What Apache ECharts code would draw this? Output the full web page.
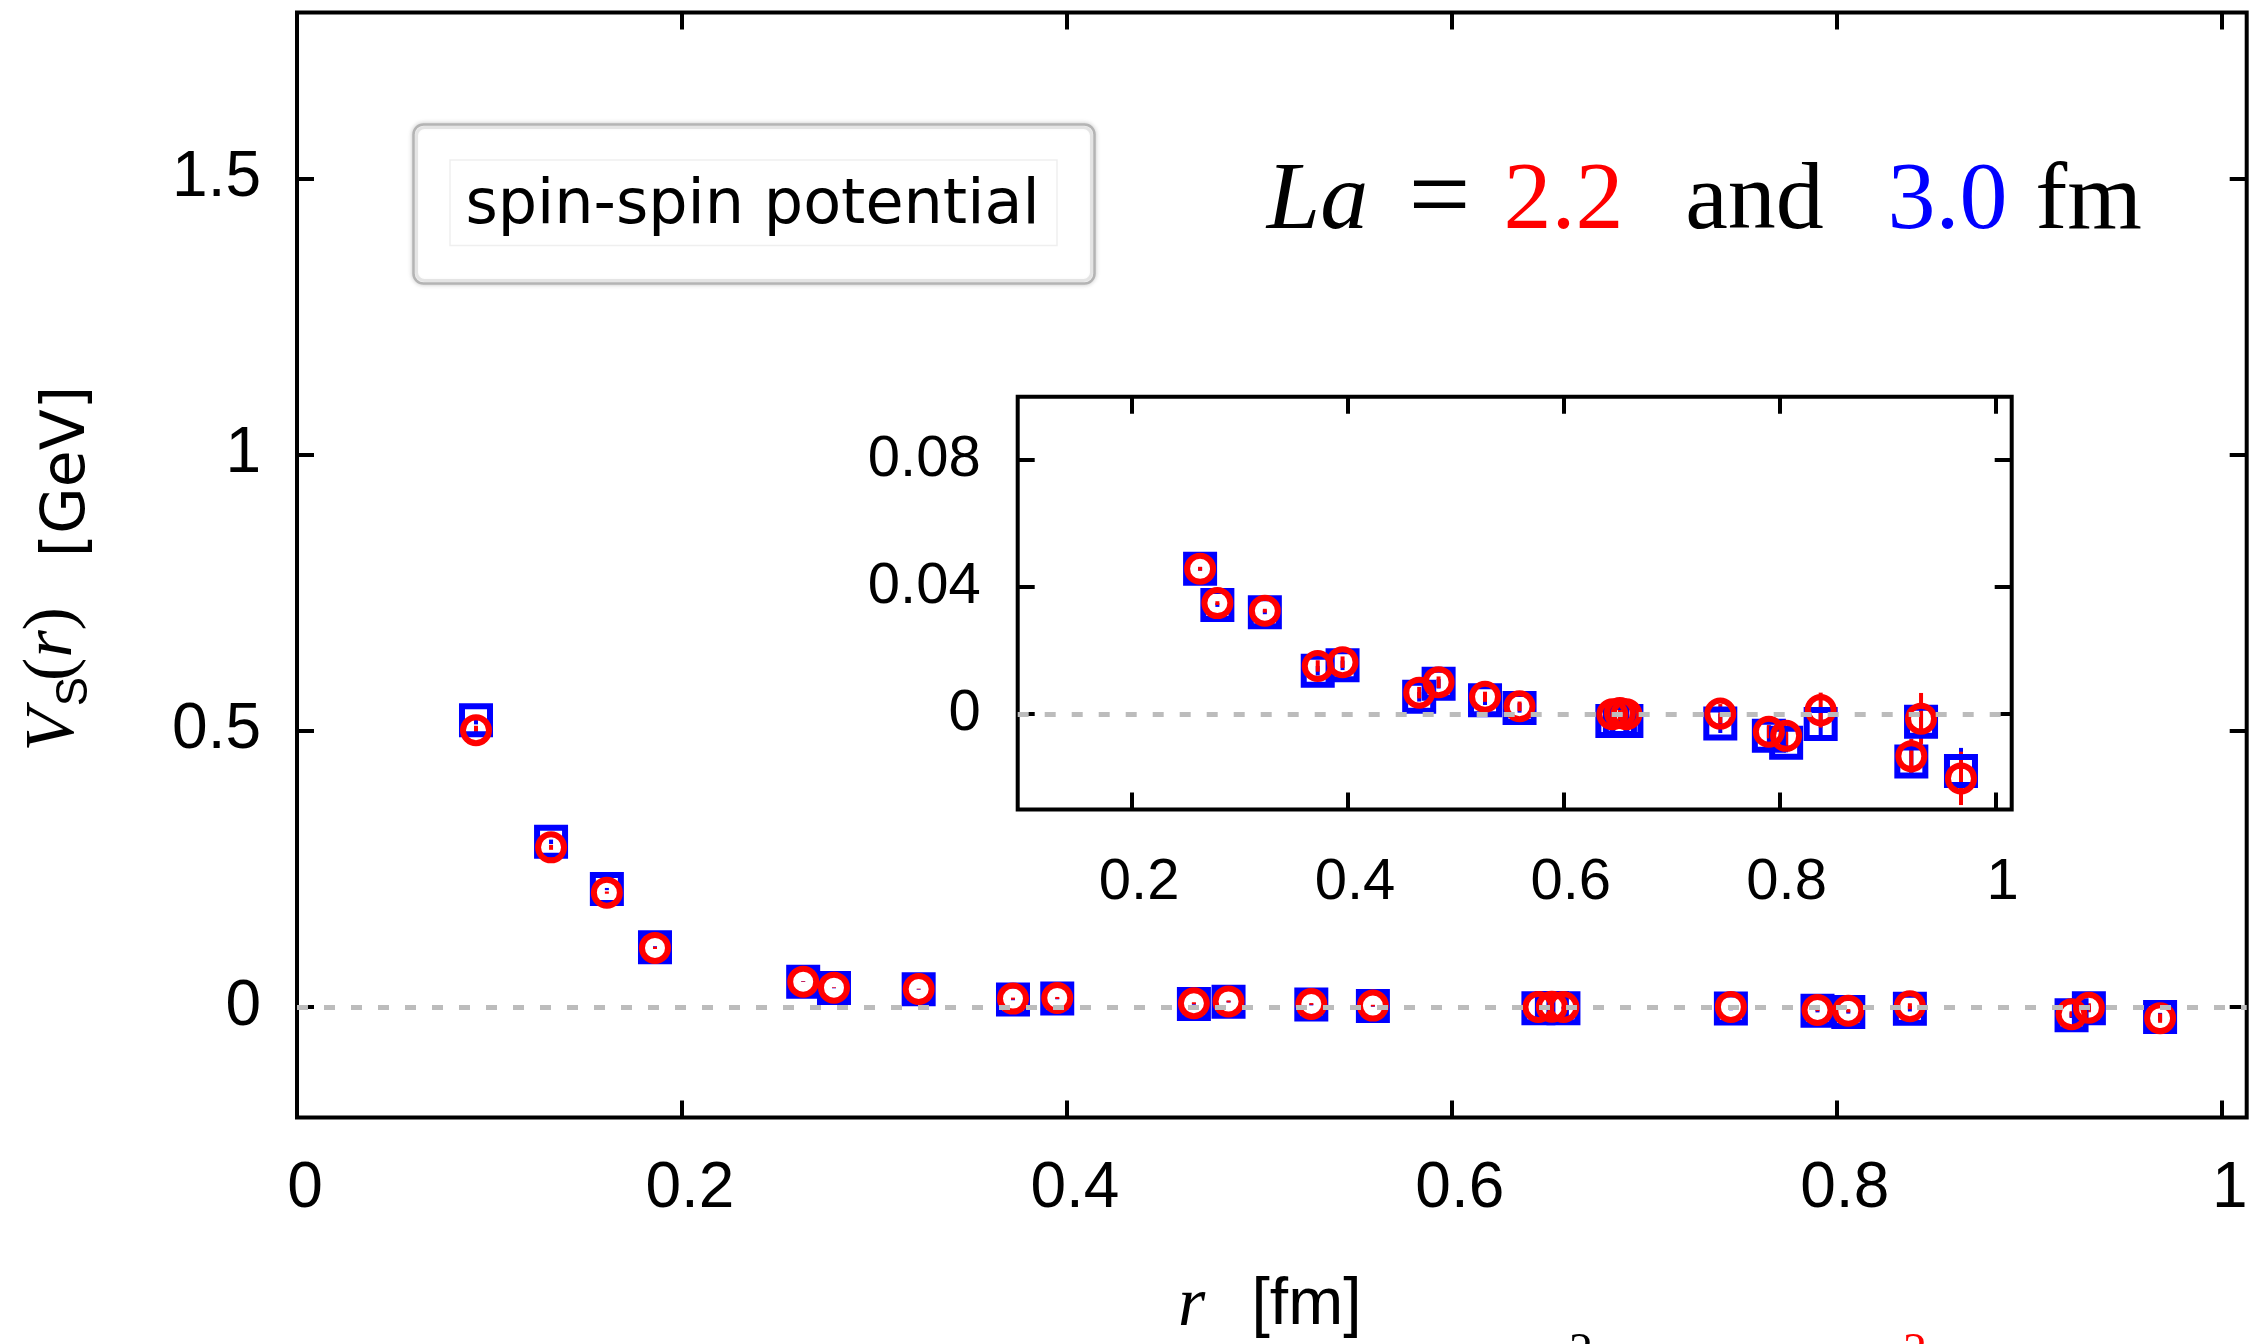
<!DOCTYPE html>
<html>
<head>
<meta charset="utf-8">
<title>Spin-spin potential</title>
<script src="https://cdn.jsdelivr.net/npm/echarts@6/dist/echarts.min.js"></script>
<style>
  html, body { margin: 0; padding: 0; background: #ffffff; }
  #chart { width: 2249px; height: 1344px; }
</style>
</head>
<body>
<div id="chart"></div>
<script>
// Quark separation r [fm], shared by both lattice volumes
const rValues = [0.093, 0.132, 0.161, 0.186, 0.263, 0.279, 0.323, 0.372, 0.395,
                 0.466, 0.484, 0.527, 0.559, 0.645, 0.652, 0.658, 0.745, 0.790,
                 0.806, 0.838, 0.922, 0.931, 0.968];

// V_S(r) [GeV] for La = 3.0 fm (blue squares) and its statistical errors
const vsL30  = [0.519, 0.299, 0.2135, 0.108, 0.0458, 0.0344, 0.0321, 0.0137, 0.0154,
                0.0055, 0.0096, 0.0044, 0.0020, -0.0021, -0.0018, -0.0021, -0.0029, -0.0068,
                -0.0090, -0.0031, -0.0149, -0.0024, -0.0179];
const errL30 = [0.0075, 0.004, 0.002, 0.002, 0.0006, 0.0006, 0.0006, 0.0015, 0.0015,
                0.0015, 0.0015, 0.0015, 0.0015, 0.002, 0.002, 0.002, 0.003, 0.003,
                0.003, 0.005, 0.005, 0.005, 0.0073];

// V_S(r) [GeV] for La = 2.2 fm (red circles) and its statistical errors
const vsL22  = [0.501, 0.289, 0.207, 0.107, 0.0458, 0.0350, 0.0326, 0.0152, 0.0164,
                0.0068, 0.0101, 0.0055, 0.0025, 0.0000, 0.0004, 0.0000, 0.0002, -0.0055,
                -0.0068, 0.0013, -0.0132, -0.0014, -0.0202];
const errL22 = [0.008, 0.0045, 0.002, 0.002, 0.0006, 0.0006, 0.0006, 0.0018, 0.0018,
                0.0018, 0.0018, 0.0016, 0.0015, 0.0024, 0.0024, 0.0024, 0.003, 0.0021,
                0.003, 0.0055, 0.0055, 0.0081, 0.0084];

// Tick positions
const mainXTicks  = [0, 0.2, 0.4, 0.6, 0.8, 1];
const mainYTicks  = [0, 0.5, 1, 1.5];
const insetXTicks = [0.2, 0.4, 0.6, 0.8, 1];
const insetYTicks = [0, 0.04, 0.08];

const BLUE = '#0000ff';
const RED = '#ff0000';
const SANS = 'Liberation Sans';
const SERIF = 'Liberation Serif';

function axis(gridIndex, position, min, max, ticks, label) {
  return {
    type: 'value',
    gridIndex: gridIndex,
    position: position,
    min: min,
    max: max,
    axisLine: { show: false, onZero: false },
    splitLine: { show: false },
    axisTick: {
      show: true, inside: true, length: 17,
      customValues: ticks,
      lineStyle: { color: '#000', width: 4 }
    },
    axisLabel: label ? Object.assign({
      show: true,
      customValues: ticks,
      color: '#000',
      fontFamily: SANS
    }, label) : { show: false }
  };
}

// vertical error bar through every point that lies inside its plot box
function errorBars(axes, values, errs, color) {
  return Object.assign({
    type: 'custom',
    silent: true,
    data: rValues.map((r, i) => [r, values[i] - errs[i], values[i] + errs[i], values[i]]),
    encode: { x: 0, y: [1, 2] },
    renderItem: function (params, api) {
      const cs = params.coordSys;
      const x = api.value(0);
      const c = api.coord([x, api.value(3)]);
      if (c[0] < cs.x || c[0] > cs.x + cs.width || c[1] < cs.y || c[1] > cs.y + cs.height) {
        return { type: 'group', children: [] };
      }
      const lo = api.coord([x, api.value(1)]);
      const hi = api.coord([x, api.value(2)]);
      return {
        type: 'line',
        shape: { x1: lo[0], y1: lo[1], x2: hi[0], y2: hi[1] },
        style: { stroke: color, lineWidth: 4, lineCap: 'butt' }
      };
    }
  }, axes);
}

function panelSeries(idx) {
  const axes = { xAxisIndex: idx * 2, yAxisIndex: idx * 2 };
  return [
    Object.assign({
      type: 'scatter', data: [], silent: true,
      markLine: {
        silent: true, animation: false,
        symbol: ['none', 'none'],
        label: { show: false },
        lineStyle: { type: [11, 16], color: '#bcbcbc', width: 5, cap: 'butt' },
        data: [{ yAxis: 0 }]
      }
    }, axes),
    Object.assign({
      type: 'scatter', silent: true, clip: true,
      data: rValues.map((r, i) => [r, vsL30[i]]),
      symbol: 'rect', symbolSize: 28,
      itemStyle: { color: 'rgba(0,0,0,0)', borderColor: BLUE, borderWidth: 6, opacity: 1 }
    }, axes),
    errorBars(axes, vsL30, errL30, BLUE),
    Object.assign({
      type: 'scatter', silent: true, clip: true,
      data: rValues.map((r, i) => [r, vsL22[i]]),
      symbol: 'circle', symbolSize: 26,
      itemStyle: { color: 'rgba(0,0,0,0)', borderColor: RED, borderWidth: 6, opacity: 1 }
    }, axes),
    errorBars(axes, vsL22, errL22, RED)
  ];
}

const mainXLabel  = { fontSize: 64, margin: 40, padding: [0, 0, 0, 16] };
const mainYLabel  = { fontSize: 64, margin: 36, padding: [0, 0, 8, 0] };
const insetXLabel = { fontSize: 58, margin: 44, padding: [0, 0, 0, 14] };
const insetYLabel = { fontSize: 58, margin: 37, padding: [0, 0, 6, 0] };

const option = {
  animation: false,
  backgroundColor: '#ffffff',
  grid: [
    { left: 297, top: 12.5, right: 2.3, bottom: 226.5, show: true,
      borderColor: '#000', borderWidth: 4, backgroundColor: 'transparent',
      containLabel: false, outerBoundsMode: 'none' },
    { left: 1017.7, top: 396.7, width: 994, height: 412.8, show: true,
      borderColor: '#000', borderWidth: 4, backgroundColor: '#ffffff',
      containLabel: false, outerBoundsMode: 'none' }
  ],
  xAxis: [
    axis(0, 'bottom', 0, 1.013, mainXTicks, mainXLabel),
    axis(0, 'top', 0, 1.013, mainXTicks, null),
    axis(1, 'bottom', 0.094, 1.015, insetXTicks, insetXLabel),
    axis(1, 'top', 0.094, 1.015, insetXTicks, null)
  ],
  yAxis: [
    axis(0, 'left', -0.2, 1.8, mainYTicks, mainYLabel),
    axis(0, 'right', -0.2, 1.8, mainYTicks, null),
    axis(1, 'left', -0.03, 0.1, insetYTicks, insetYLabel),
    axis(1, 'right', -0.03, 0.1, insetYTicks, null)
  ],
  series: panelSeries(0).concat(panelSeries(1)),
  graphic: [
    // label box
    { type: 'rect', silent: true, z: 10,
      shape: { x: 413.5, y: 124.5, width: 681, height: 159, r: 10 },
      style: { fill: '#ffffff', stroke: '#b4b4b4', lineWidth: 2.5,
               shadowBlur: 5, shadowColor: 'rgba(0,0,0,0.18)' } },
    { type: 'rect', silent: true, z: 11,
      shape: { x: 416.5, y: 127.5, width: 675, height: 153, r: 8 },
      style: { fill: 'none', stroke: '#e4e4e4', lineWidth: 3 } },
    { type: 'rect', silent: true, z: 11,
      shape: { x: 450, y: 160, width: 607, height: 85.5 },
      style: { fill: 'none', stroke: '#efefef', lineWidth: 1.5 } },
    { type: 'text', silent: true, z: 12, x: 752.5, y: 206.5,
      style: { text: 'spin-spin potential', fill: '#000',
               font: '62px "DejaVu Sans"', align: 'center', verticalAlign: 'middle' } },

    // La = 2.2 and 3.0 fm
    { type: 'text', silent: true, z: 12, x: 1317.5, y: 202.5,
      style: { text: 'La', fill: '#000', font: 'italic 96px "Liberation Serif"',
               align: 'center', verticalAlign: 'middle' } },
    { type: 'text', silent: true, z: 12, x: 1439.5, y: 202.5,
      style: { text: '=', fill: '#000', font: '110px "Liberation Serif"',
               align: 'center', verticalAlign: 'middle' } },
    { type: 'text', silent: true, z: 12, x: 1563.5, y: 202.5,
      style: { text: '2.2', fill: RED, font: '96px "Liberation Serif"',
               align: 'center', verticalAlign: 'middle' } },
    { type: 'text', silent: true, z: 12, x: 1754.5, y: 202.5,
      style: { text: 'and', fill: '#000', font: '96px "Liberation Serif"',
               align: 'center', verticalAlign: 'middle' } },
    { type: 'text', silent: true, z: 12, x: 1947.5, y: 202.5,
      style: { text: '3.0', fill: BLUE, font: '96px "Liberation Serif"',
               align: 'center', verticalAlign: 'middle' } },
    { type: 'text', silent: true, z: 12, x: 2088.5, y: 202.5,
      style: { text: 'fm', fill: '#000', font: '96px "Liberation Serif"',
               align: 'center', verticalAlign: 'middle' } },

    // y-axis title: V_S(r)  [GeV]
    { type: 'text', silent: true, z: 12, x: 55, y: 730, rotation: Math.PI / 2,
      style: { text: 'V', fill: '#000', font: 'italic 70px "Liberation Serif"',
               align: 'center', verticalAlign: 'middle' } },
    { type: 'text', silent: true, z: 12, x: 75, y: 691.5, rotation: Math.PI / 2,
      style: { text: 'S', fill: '#000', font: '44px "Liberation Sans"',
               align: 'center', verticalAlign: 'middle' } },
    { type: 'text', silent: true, z: 12, x: 53, y: 644, rotation: Math.PI / 2,
      style: { text: '{u|(}{i|r}{u|)}', fill: '#000', align: 'center', verticalAlign: 'middle',
               rich: {
                 u: { fontFamily: SERIF, fontSize: 70, fill: '#000' },
                 i: { fontFamily: SERIF, fontSize: 70, fontStyle: 'italic', fill: '#000' }
               } } },
    { type: 'text', silent: true, z: 12, x: 68.5, y: 471.5, rotation: Math.PI / 2,
      style: { text: '[GeV]', fill: '#000', font: '60px "DejaVu Sans"',
               align: 'center', verticalAlign: 'middle' } },

    // x-axis title: r  [fm]
    { type: 'text', silent: true, z: 12, x: 1191.5, y: 1306.5,
      style: { text: 'r', fill: '#000', font: 'italic 70px "Liberation Serif"',
               align: 'center', verticalAlign: 'middle' } },
    { type: 'text', silent: true, z: 12, x: 1306.5, y: 1306,
      style: { text: '[fm]', fill: '#000', font: '66px "Liberation Sans"',
               align: 'center', verticalAlign: 'middle' } },

    // top of the caption line below the figure
    { type: 'text', silent: true, z: 12, x: 1581, y: 1353,
      style: { text: '2', fill: '#000', font: '48px "Liberation Serif"',
               align: 'center', verticalAlign: 'middle' } },
    { type: 'text', silent: true, z: 12, x: 1915, y: 1353,
      style: { text: '2', fill: RED, font: '48px "Liberation Serif"',
               align: 'center', verticalAlign: 'middle' } }
  ]
};

const chart = echarts.init(document.getElementById('chart'), null, { renderer: 'canvas' });
chart.setOption(option);
</script>
</body>
</html>
